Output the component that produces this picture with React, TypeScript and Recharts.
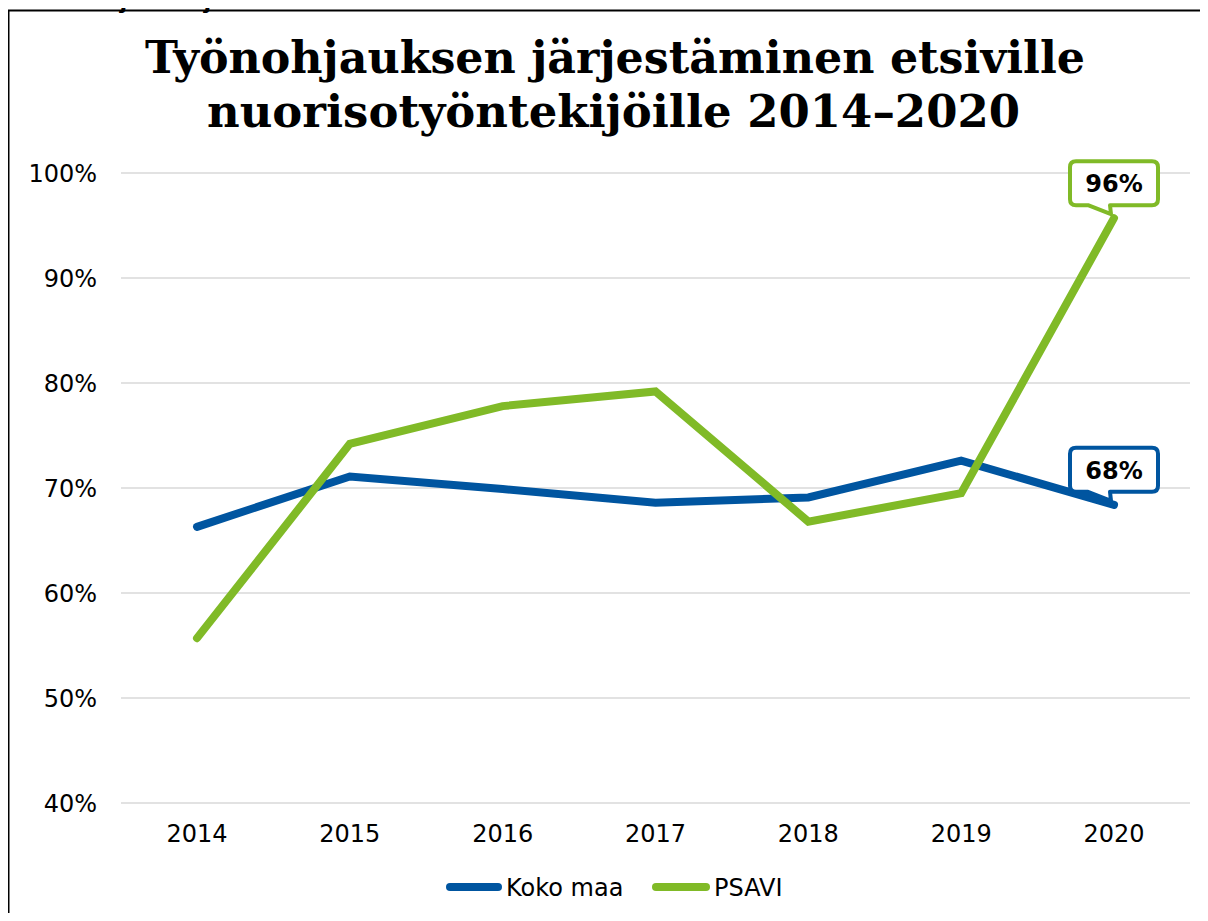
import React from 'react';
import { LineChart, Line, XAxis, YAxis, CartesianGrid, LabelList } from 'recharts';

const years = ['2014', '2015', '2016', '2017', '2018', '2019', '2020'];
const kokoMaa = [66.3, 71.1, 69.9, 68.6, 69.1, 72.6, 68.4];
const psavi = [55.7, 74.2, 77.8, 79.2, 66.8, 69.5, 95.7];
const yTicks = [40, 50, 60, 70, 80, 90, 100];

const titleLines = ['Työnohjauksen järjestäminen etsiville', 'nuorisotyöntekijöille 2014–2020'];
const topText = 'maassa ja Pohjois-Suomen aluehallintoviraston alueella vuosina 2014–2020';

const BLUE = '#0055A0';
const GREEN = '#80BA27';

const series = [
  { key: 'kokoMaa', name: 'Koko maa', color: BLUE },
  { key: 'psavi', name: 'PSAVI', color: GREEN },
];

const data = years.map((y, i) => ({ year: y, kokoMaa: kokoMaa[i], psavi: psavi[i] }));

const FONT = '"DejaVu Sans", Verdana, sans-serif';

const makeCallout = (color: string) => (props: any) => {
  const { x, y, value, index } = props;
  if (index !== years.length - 1) return null;
  const l = x - 44, r = x + 44, t = y - 57, b = y - 13, rad = 6;
  const d = `M ${l + rad} ${t} H ${r - rad} Q ${r} ${t} ${r} ${t + rad} V ${b - rad} Q ${r} ${b} ${r - rad} ${b} H ${x - 4} L ${x - 3} ${y - 4} L ${x - 26} ${b} H ${l + rad} Q ${l} ${b} ${l} ${b - rad} V ${t + rad} Q ${l} ${t} ${l + rad} ${t} Z`;
  return (
    <g>
      <path d={d} fill="#fff" stroke={color} strokeWidth={4} strokeLinejoin="round" />
      <text x={x} y={y - 26} textAnchor="middle" fontFamily={FONT} fontWeight="bold" fontSize={24} fill="#000">
        {`${Math.round(value)}%`}
      </text>
    </g>
  );
};

export default function App() {
  return (
    <div style={{ position: 'relative', width: 1208, height: 921, margin: -8, overflow: 'hidden', background: '#fff' }}>
      <svg width={1208} height={921} style={{ position: 'absolute', left: 0, top: 0 }}>
        <line x1={8} y1={10.5} x2={1208} y2={10.5} stroke="#000" strokeWidth={2} />
        <line x1={8.5} y1={10} x2={8.5} y2={921} stroke="#000" strokeWidth={2} />
        <text x={145} y={73} fontFamily='"DejaVu Serif", Georgia, serif' fontWeight="bold" fontSize={44} textLength={940} lengthAdjust="spacingAndGlyphs" fill="#000">
          {titleLines[0]}
        </text>
        <text x={207} y={127} fontFamily='"DejaVu Serif", Georgia, serif' fontWeight="bold" fontSize={44} textLength={813} lengthAdjust="spacingAndGlyphs" fill="#000">
          {titleLines[1]}
        </text>
      </svg>
      <div
        style={{
          position: 'absolute',
          left: 9,
          top: -15,
          height: 26,
          lineHeight: '26px',
          fontFamily: '"Liberation Sans", Arial, sans-serif',
          fontWeight: 'bold',
          fontSize: 28,
          whiteSpace: 'nowrap',
          color: '#000',
        }}
      >
        {topText}
      </div>
      <div style={{ position: 'absolute', left: 0, top: 0 }}>
        <LineChart width={1208} height={921} data={data} margin={{ top: 173, right: 18, bottom: 88, left: 21 }}>
          <CartesianGrid vertical={false} stroke="#d9d9d9" strokeWidth={1.5} />
          <XAxis
            dataKey="year"
            padding={{ left: 76, right: 76 }}
            axisLine={false}
            tickLine={false}
            tickSize={0}
            tickMargin={22}
            height={30}
            tick={{ fontFamily: FONT, fontSize: 24, fill: '#000' }}
          />
          <YAxis
            domain={[40, 100]}
            ticks={yTicks}
            width={100}
            axisLine={false}
            tickLine={false}
            tickSize={0}
            tickMargin={24}
            tickFormatter={(v: number) => `${v}%`}
            tick={{ fontFamily: FONT, fontSize: 24, fill: '#000' }}
          />
          {series.map((s) => (
            <Line
              key={s.key}
              dataKey={s.key}
              name={s.name}
              stroke={s.color}
              strokeWidth={8}
              strokeLinecap="round"
              dot={false}
              activeDot={false}
              isAnimationActive={false}
            >
              <LabelList dataKey={s.key} content={makeCallout(s.color)} />
            </Line>
          ))}
        </LineChart>
      </div>
      <svg width={1208} height={921} style={{ position: 'absolute', left: 0, top: 0, pointerEvents: 'none' }}>
        {series.map((s, i) => {
          const x0 = i === 0 ? 446 : 652;
          const len = i === 0 ? 56 : 58;
          return (
            <g key={s.key}>
              <line x1={x0 + 4} y1={887} x2={x0 + len - 4} y2={887} stroke={s.color} strokeWidth={8} strokeLinecap="round" />
              <text x={x0 + len + 4} y={896} fontFamily={FONT} fontSize={24} fill="#000">
                {s.name}
              </text>
            </g>
          );
        })}
      </svg>
    </div>
  );
}
